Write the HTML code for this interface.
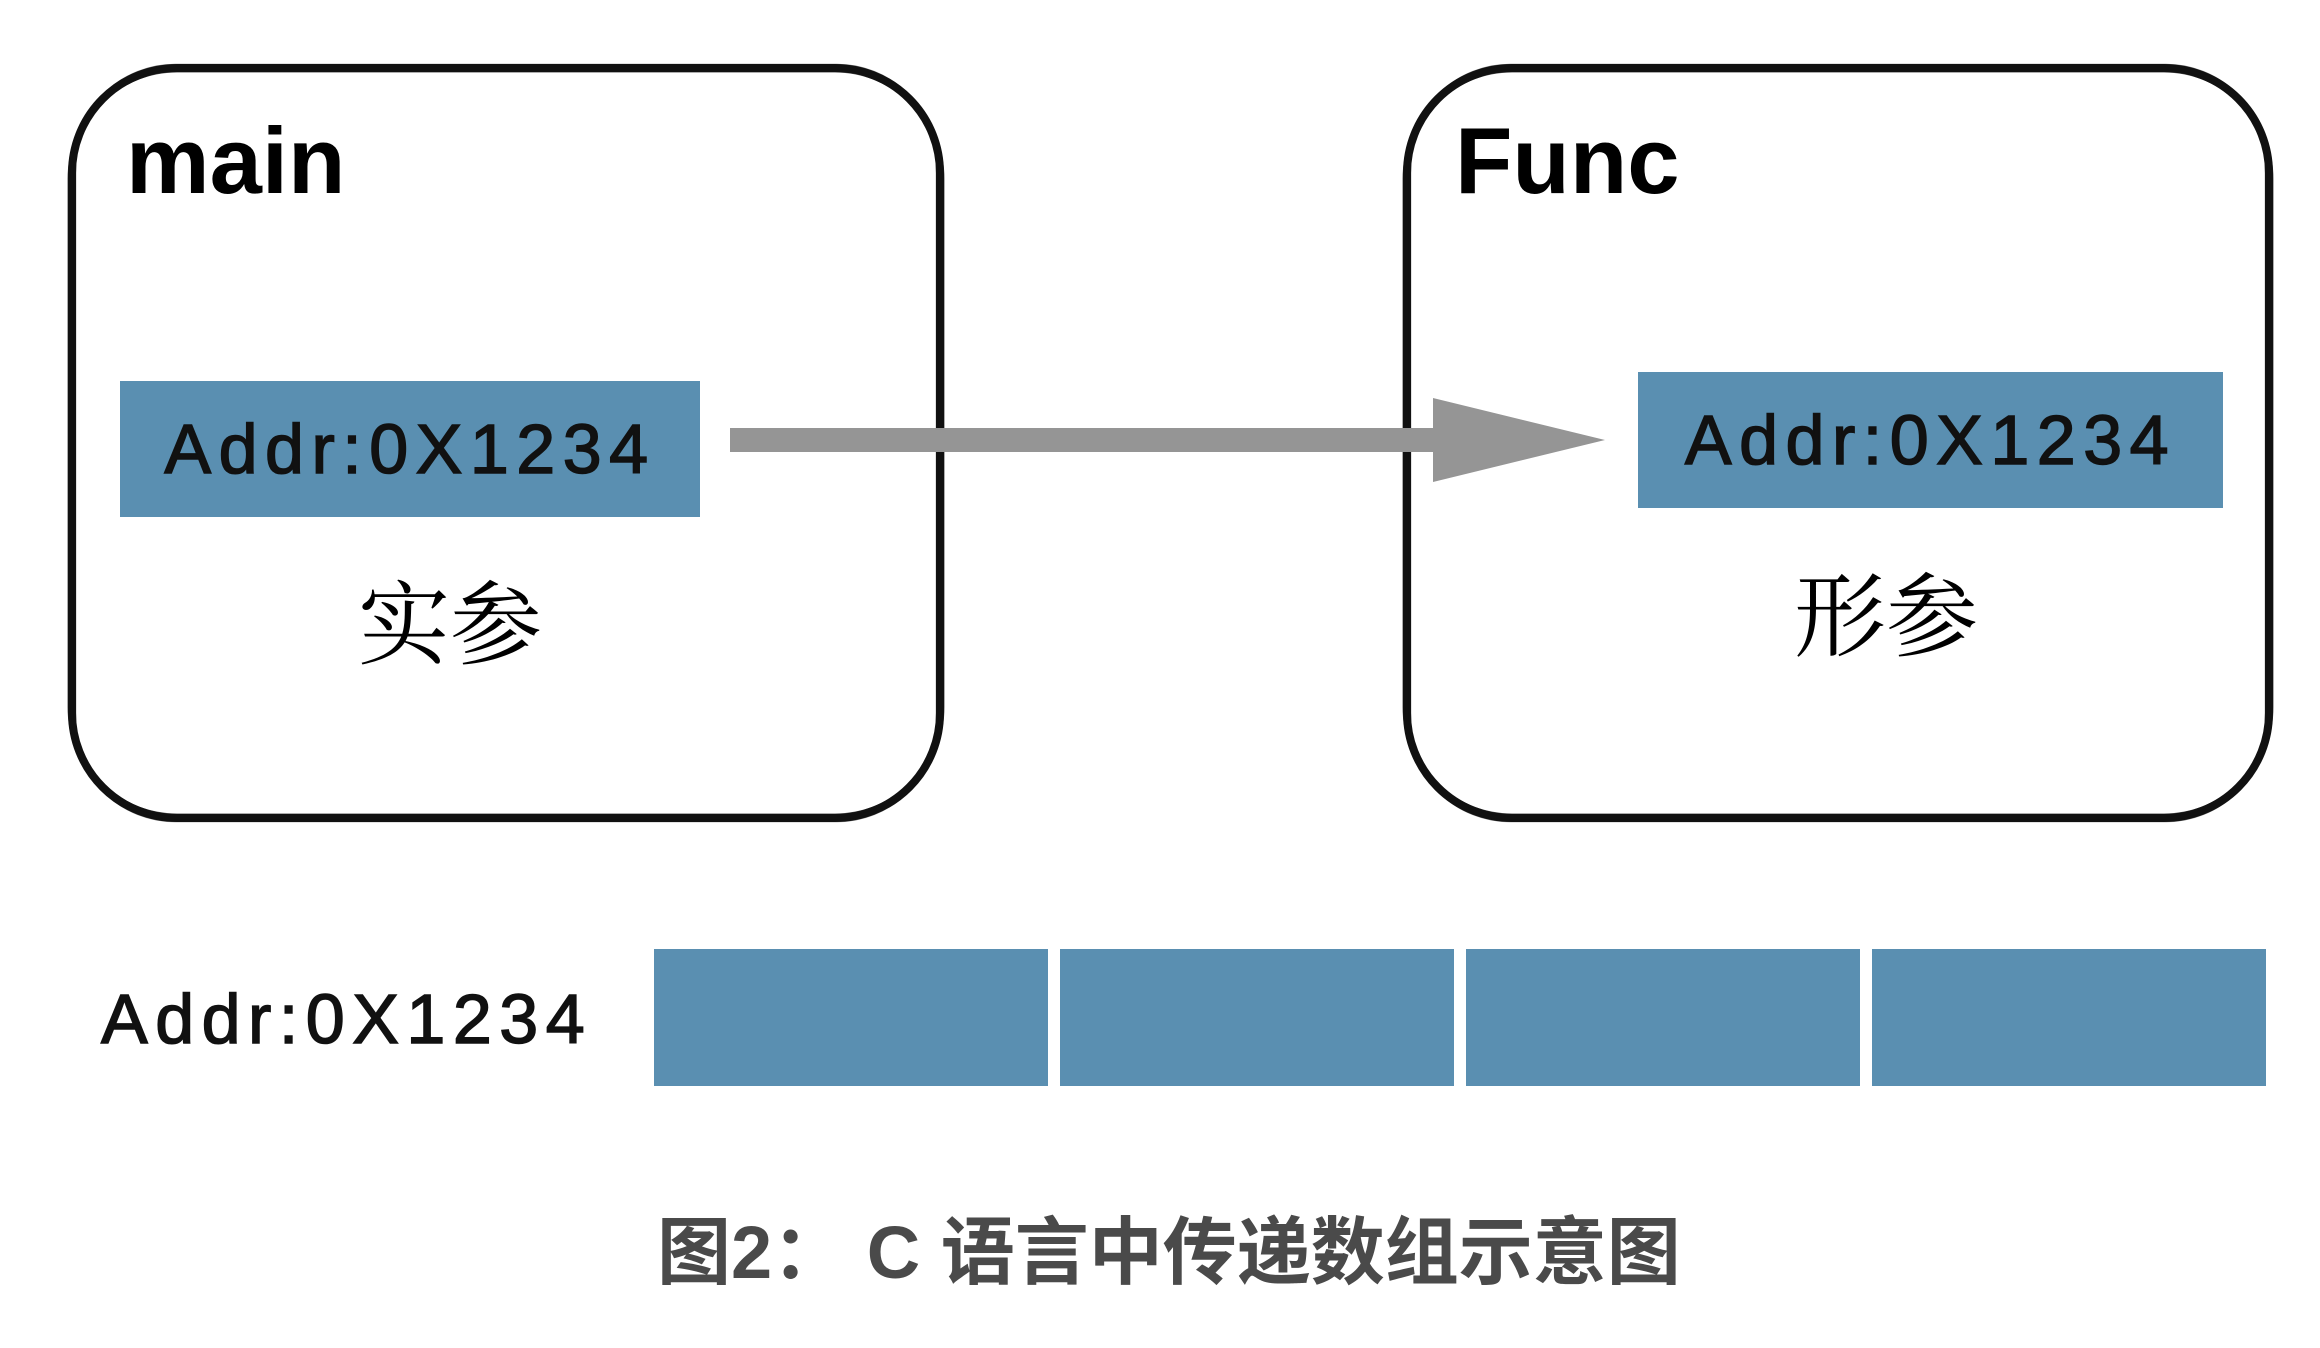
<!DOCTYPE html>
<html><head><meta charset="utf-8"><style>
html,body{margin:0;padding:0;background:#fff;}
body{width:2320px;height:1348px;position:relative;overflow:hidden;font-family:"Liberation Sans","Noto Sans CJK SC",sans-serif;}
.t{position:absolute;white-space:nowrap;}
.blue{position:absolute;background:#5a8fb1;}
.addr{font-size:70px;color:#111;letter-spacing:7.5px;-webkit-text-stroke:1.5px #111;}
</style></head><body>
<svg width="2320" height="1348" style="position:absolute;left:0;top:0">
  <g fill="none" stroke="#111">
    <rect x="72" y="68" width="868" height="750" rx="105" ry="105" stroke-width="8"/>
    <rect x="69" y="71" width="874" height="744" rx="108" ry="108" stroke-width="3" opacity="0.7"/>
    <rect x="75" y="65" width="862" height="756" rx="100" ry="100" stroke-width="2.5" opacity="0.5"/>
    <rect x="1407" y="68" width="862" height="750" rx="105" ry="105" stroke-width="8"/>
    <rect x="1404" y="71" width="868" height="744" rx="108" ry="108" stroke-width="3" opacity="0.7"/>
    <rect x="1410" y="65" width="856" height="756" rx="100" ry="100" stroke-width="2.5" opacity="0.5"/>
  </g>
  <rect x="730" y="428" width="705" height="24" fill="#959595"/>
  <polygon points="1433,398 1605,440 1433,482" fill="#959595"/>
</svg>
<div class="t" style="left:126px;top:114px;font-size:94px;font-weight:bold;line-height:1;color:#000;">main</div>
<div class="t" style="left:1455px;top:114px;font-size:94px;font-weight:bold;line-height:1;color:#000;">Func</div>

<div class="blue" style="left:120px;top:381px;width:580px;height:136px;"></div>
<div class="t addr" style="left:120px;top:381px;width:580px;height:136px;line-height:136px;text-align:center;">Addr:0X1234</div>
<div class="blue" style="left:1638px;top:372px;width:585px;height:136px;"></div>
<div class="t addr" style="left:1638px;top:372px;width:585px;height:136px;line-height:136px;text-align:center;">Addr:0X1234</div>

<div class="t" style="left:350px;top:580px;width:200px;text-align:center;font-size:92px;line-height:1;font-family:'Liberation Serif','Noto Serif CJK SC',serif;">实参</div>
<div class="t" style="left:1786px;top:572px;width:200px;text-align:center;font-size:92px;line-height:1;font-family:'Liberation Serif','Noto Serif CJK SC',serif;">形参</div>

<div class="t addr" style="left:101px;top:984px;line-height:70px;">Addr:0X1234</div>
<div class="blue" style="left:654px;top:949px;width:394px;height:137px;"></div>
<div class="blue" style="left:1060px;top:949px;width:394px;height:137px;"></div>
<div class="blue" style="left:1466px;top:949px;width:394px;height:137px;"></div>
<div class="blue" style="left:1872px;top:949px;width:394px;height:137px;"></div>

<div class="t" style="left:657px;top:1212px;font-size:74px;line-height:82px;font-weight:bold;color:#4a4a4a;font-family:'Liberation Sans','Noto Sans CJK SC',sans-serif;">图2： C 语言中传递数组示意图</div>
</body></html>
